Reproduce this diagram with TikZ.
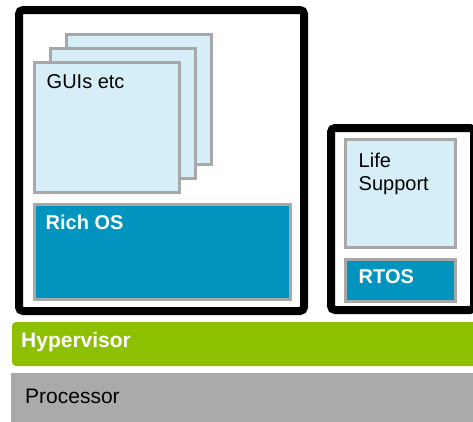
\documentclass[tikz,border=0pt]{standalone}
\usepackage{fontspec}
\setmainfont{Liberation Sans}
\usetikzlibrary{positioning}

\definecolor{pagefill}{HTML}{D6EEF8}
\definecolor{osblue}{HTML}{0094BF}
\definecolor{hvgreen}{HTML}{8DC000}
\definecolor{cpugray}{HTML}{AAAAAA}
\definecolor{edgegray}{HTML}{A8A8A8}

\begin{document}
\begin{tikzpicture}[x=1pt, y=-1pt,
    frame/.style={draw=black, line width=8pt, rounded corners=4pt, fill=white},
    page/.style={draw=edgegray, line width=3pt, fill=pagefill, inner sep=0pt},
    os/.style={draw=edgegray, line width=3pt, fill=osblue, inner sep=0pt},
    txt/.style={inner sep=0pt, font=\fontsize{20}{23}\selectfont, anchor=base west},
    btxt/.style={txt, text=white, font=\fontsize{20}{23}\selectfont\bfseries},
    bar/.style={inner sep=0pt, font=\fontsize{21}{24}\selectfont, anchor=base west}]
    \useasboundingbox (0,0) rectangle (473,421);
    \clip (0,0) rectangle (473,421);
    \node[frame, minimum width=285pt, minimum height=301pt] (rich) at (161.5,160.5) {};
    \node[frame, minimum width=143pt, minimum height=182pt] (rt) at (402.5,219) {};
    \foreach \k in {3,2,1}
      \node[page, minimum width=145pt, minimum height=130pt] (p\k) at (91+16*\k,141.5-14*\k) {};
    \node[txt] (gui) at ([shift={(13.5,27.5)}]p1.north west) {GUIs etc};
    \node[os, minimum width=256pt, minimum height=95pt] (richos) at (162.5,252) {};
    \node[btxt] (richlbl) at ([shift={(12.5,26.5)}]richos.north west) {Rich OS};
    \node[page, minimum width=110pt, minimum height=108pt] (life) at (400.5,193.5) {};
    \node[txt, align=left] (lifelbl) at ([shift={(14.5,52.5)}]life.north west) {Life\\Support};
    \node[os, minimum width=110pt, minimum height=42pt] (rtos) at (400.5,280.5) {};
    \node[btxt] (rtoslbl) at ([shift={(14.5,25.5)}]rtos.north west) {RTOS};
    \fill[hvgreen, rounded corners=4pt] (12,322) rectangle (490,366);
    \node[bar, text=white, font=\fontsize{21}{24}\selectfont\bfseries] (hv) at (21,347) {Hypervisor};
    \fill[cpugray] (11,373) rectangle (490,430);
    \node[bar] (cpu) at (25,403) {Processor};
\end{tikzpicture}
\end{document}
